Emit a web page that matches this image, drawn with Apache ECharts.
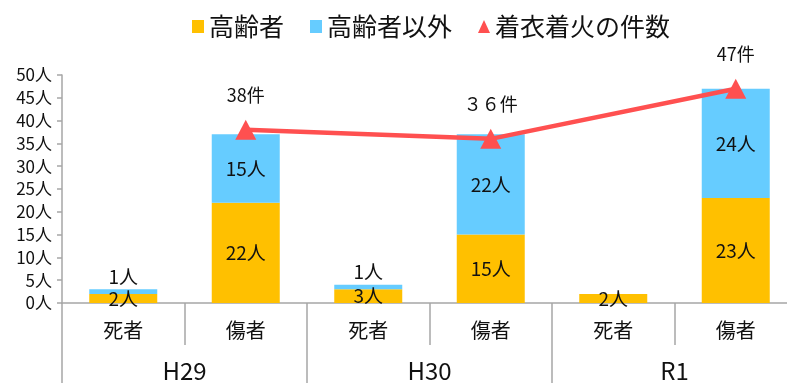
<!DOCTYPE html>
<html><head><meta charset="utf-8">
<script src="https://cdn.jsdelivr.net/npm/echarts@6/dist/echarts.min.js"></script>
<style>html,body{margin:0;padding:0;background:#fff}#c{width:787px;height:383px}</style>
</head><body><div id="c"></div>
<script>
const categories = ['死者','傷者','死者','傷者','死者','傷者'];
const groups = ['H29','H30','R1'];
const elderly = [2, 22, 3, 15, 2, 23];
const nonElderly = [1, 15, 1, 22, 0, 24];
const fireCases = [null, 38, null, 36, null, 47];
const fireLabels = [null, '38件', null, '３６件', null, '47件'];
const yTicks = [0,5,10,15,20,25,30,35,40,45,50];

const FONT = '"Noto Sans CJK JP", "Noto Sans", sans-serif';
const chart = echarts.init(document.getElementById('c'), null, {renderer:'canvas'});

function barLabel(v){ return v ? v + '人' : ''; }

const blueData = nonElderly.map(v => v < 3 ? {value: v, label:{position:'top', distance:3}} : v);

chart.setOption({
  animation:false,
  textStyle:{fontFamily:FONT},
  legend:{
    left:187, top:9,
    itemWidth:12, itemHeight:13, itemGap:26,
    textStyle:{fontSize:25, color:'#111', fontFamily:FONT},
    data:[
      {name:'高齢者', icon:'rect'},
      {name:'高齢者以外', icon:'rect'},
      {name:'着衣着火の件数', icon:'triangle', itemStyle:{color:'#FF5050'}}
    ]
  },
  grid:{left:62, top:75, width:735, height:228, containLabel:false, outerBoundsMode:'none'},
  xAxis:[
    {type:'category', data:categories, position:'bottom',
     axisLine:{lineStyle:{color:'#A6A6A6', width:1.5}},
     axisTick:{show:true, interval:0, length:42, lineStyle:{color:'#A6A6A6', width:1.5}},
     axisLabel:{interval:0, margin:17, fontSize:20, color:'#111', fontFamily:FONT}},
    {type:'category', data:groups, position:'bottom',
     axisLine:{show:false},
     axisTick:{show:true, interval:0, length:90, lineStyle:{color:'#A6A6A6', width:1.5}},
     axisLabel:{interval:0, margin:56, fontSize:24, color:'#111', fontFamily:FONT}}
  ],
  yAxis:{type:'value', min:0, max:50, interval:5,
    splitLine:{show:false},
    axisLine:{show:true, lineStyle:{color:'#A6A6A6', width:1.5}},
    axisTick:{show:true, length:5, lineStyle:{color:'#A6A6A6', width:1.5}},
    axisLabel:{formatter: v => yTicks.includes(v) ? v + '人' : '', fontSize:17, color:'#111', margin:10, fontFamily:FONT}},
  series:[
    {name:'高齢者', type:'bar', stack:'a', barWidth:68, data:elderly,
     itemStyle:{color:'#FFC000'},
     label:{show:true, position:'inside', formatter:p=>barLabel(p.value), fontSize:19, color:'#111', fontFamily:FONT}},
    {name:'高齢者以外', type:'bar', stack:'a', barWidth:68, data:blueData,
     itemStyle:{color:'#66CCFF'},
     label:{show:true, position:'inside', formatter:p=>barLabel(p.value), fontSize:19, color:'#111', fontFamily:FONT}},
    {name:'着衣着火の件数', type:'line', data:fireCases, connectNulls:true,
     symbol:'triangle', symbolSize:[21,20], z:5,
     lineStyle:{color:'#FF5050', width:4.5},
     itemStyle:{color:'#FF5050'},
     label:{show:true, position:'top', distance:16, formatter:p=>fireLabels[p.dataIndex] || '', fontSize:18, color:'#111', fontFamily:FONT}}
  ]
});
</script></body></html>
